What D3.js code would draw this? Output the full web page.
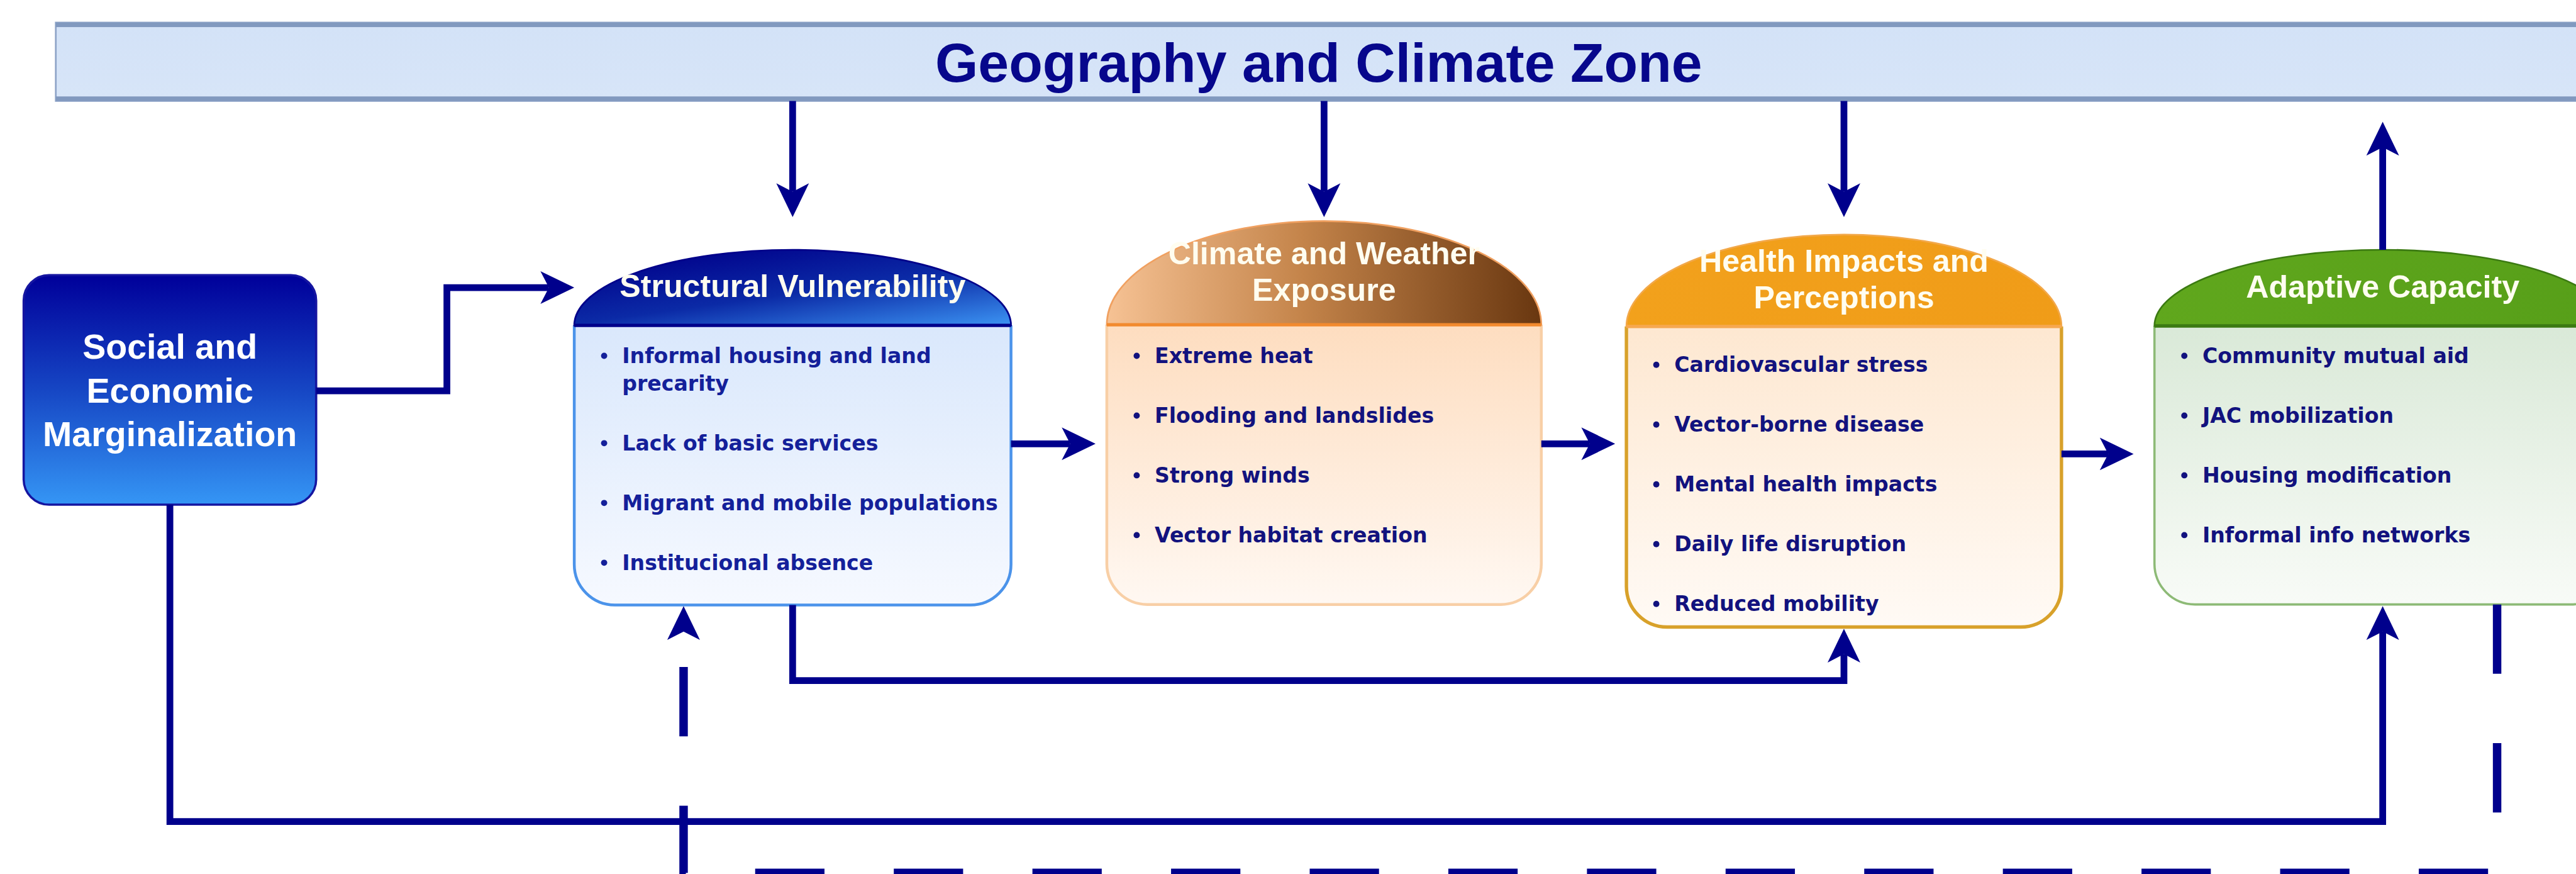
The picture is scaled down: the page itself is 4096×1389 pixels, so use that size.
<!DOCTYPE html>
<html>
<head>
<meta charset="utf-8">
<script src="https://cdn.jsdelivr.net/npm/d3@7"></script>
<style>
  html, body { margin: 0; padding: 0; background: #fff; overflow: hidden; }
  svg { display: block; }
</style>
</head>
<body>
<script>
/* Diagram content */
var topLabel = "Geography and Climate Zone";
var sourceLabel = ["Social and", "Economic", "Marginalization"];
var boxTitles = ["Structural Vulnerability", "Climate and Weather Exposure",
                 "Health Impacts and Perceptions", "Adaptive Capacity"];
var structuralItems = ["Informal housing and land precarity", "Lack of basic services",
                       "Migrant and mobile populations", "Institucional absence"];
var climateItems = ["Extreme heat", "Flooding and landslides", "Strong winds", "Vector habitat creation"];
var healthItems = ["Cardiovascular stress", "Vector-borne disease", "Mental health impacts",
                   "Daily life disruption", "Reduced mobility"];
var adaptiveItems = ["Community mutual aid", "JAC mobilization", "Housing modification",
                     "Informal info networks"];
var boxItems = [structuralItems, climateItems, healthItems, adaptiveItems];

/* Layout, in reference pixels (the viewBox scales it to the window) */
var CONF = {
  W: 4571, H: 1550,
  navy: "#00008c",
  lineW: 12,
  head: { len: 60, half: 29, notch: 15 },
  bar: { x: 99, y: 40, w: 4482, h: 139 },
  source: { x: 42, y: 488, w: 519, h: 407, r: 45 },
  boxes: [
    { x0: 1019, x1: 1794, y0: 443, hb: 577, y1: 1073, first: 644 },
    { x0: 1964, x1: 2735, y0: 392, hb: 576, y1: 1072, first: 644 },
    { x0: 2886, x1: 3658, y0: 416, hb: 579, y1: 1112, first: 660 },
    { x0: 3823, x1: 4633, y0: 443, hb: 578, y1: 1072, first: 644 }
  ],
  bottomR: 72,
  itemGap: 106, wrapGap: 49, textPad: 85, dotPad: 53,
  titleFont: "'Liberation Sans', Arial, sans-serif",
  itemFont: "'DejaVu Sans', Verdana, sans-serif"
};

var boxStyle = [
  { head: [["0%", "#00008a"], ["50%", "#0b2aa6"], ["100%", "#3c94f3"]], dir: [0.2, 0, 1, 1], rim: "#00008a",
    headLine: "#00008a", body: ["#d2e3fb", "#f6f9ff"], border: "#4b93ea", bw: 5, ink: "#14209a" },
  { head: [["0%", "#f6c294"], ["45%", "#c4844a"], ["100%", "#693710"]], dir: [0, 0, 1, 0], rim: "#f0a060",
    headLine: "#f28a2e", body: ["#fdd3ad", "#fff8f2"], border: "#f8cfa6", bw: 5, ink: "#12127e" },
  { head: [["0%", "#f2a11c"], ["100%", "#f09c18"]], dir: [0, 0, 1, 0], rim: "#f2a84a",
    headLine: "#f6a850", body: ["#fde2c6", "#fffaf5"], border: "#d8a12a", bw: 6, ink: "#12127e" },
  { head: [["0%", "#60a71d"], ["100%", "#579f19"]], dir: [0, 0, 1, 0], rim: "#3b7a12",
    headLine: "#3b7a12", body: ["#d1e4cf", "#f8fbf7"], border: "#8dba76", bw: 4, ink: "#12127e" }
];

var svg = d3.select("body").append("svg")
  .attr("width", 4096).attr("height", 1389)
  .attr("viewBox", "0 0 " + CONF.W + " " + CONF.H);
var defs = svg.append("defs");

var measurer = svg.append("text").attr("visibility", "hidden");
var measure = function(str, font, size) {
  measurer.attr("font-family", font).attr("font-size", size).attr("font-weight", "bold").text(str);
  return measurer.node().getComputedTextLength();
};
var wrap = function(str, maxW, font, size) {
  var lines = [], cur = "";
  str.split(" ").forEach(function(w) {
    var t = cur ? cur + " " + w : w;
    if (cur && measure(t, font, size) > maxW) { lines.push(cur); cur = w; }
    else cur = t;
  });
  lines.push(cur);
  return lines;
};

var addGradient = function(id, stops, dir) {
  var g = defs.append("linearGradient").attr("id", id)
    .attr("x1", dir[0]).attr("y1", dir[1]).attr("x2", dir[2]).attr("y2", dir[3]);
  stops.forEach(function(s) { g.append("stop").attr("offset", s[0]).attr("stop-color", s[1]); });
};

/* Top bar */
addGradient("barFill", [["0%", "#d3e2f7"], ["100%", "#d7e5f8"]], [0, 0, 0, 1]);
var bar = CONF.bar;
svg.append("rect").attr("x", bar.x).attr("y", bar.y).attr("width", bar.w).attr("height", bar.h)
  .attr("fill", "url(#barFill)").attr("stroke", "#8ea4c8").attr("stroke-width", 3);
svg.append("rect").attr("x", bar.x).attr("y", bar.y).attr("width", bar.w).attr("height", 8).attr("fill", "#8199bf");
svg.append("rect").attr("x", bar.x).attr("y", bar.y + bar.h - 8).attr("width", bar.w).attr("height", 8).attr("fill", "#8199bf");
svg.append("text").attr("x", 2340).attr("y", bar.y + bar.h / 2 + 0.716 * 98 / 2)
  .attr("text-anchor", "middle").attr("font-family", CONF.titleFont).attr("font-weight", "bold")
  .attr("font-size", 98).attr("fill", "#07078c").text(topLabel);

/* Source box */
addGradient("srcFill", [["0%", "#00009a"], ["50%", "#1646c4"], ["100%", "#3596f5"]], [0, 0, 0, 1]);
var src = CONF.source;
svg.append("rect").attr("x", src.x).attr("y", src.y).attr("width", src.w).attr("height", src.h)
  .attr("rx", src.r).attr("ry", src.r)
  .attr("fill", "url(#srcFill)").attr("stroke", "#1515a0").attr("stroke-width", 4);
var srcSize = 62, srcGap = 78;
var srcMid = src.y + src.h / 2 + 0.716 * srcSize / 2;
svg.append("g").selectAll("text").data(sourceLabel).join("text")
  .attr("x", src.x + src.w / 2)
  .attr("y", function(d, i) { return srcMid + (i - 1) * srcGap; })
  .attr("text-anchor", "middle").attr("font-family", CONF.titleFont).attr("font-weight", "bold")
  .attr("font-size", srcSize).attr("fill", "#ffffff").text(function(d) { return d; });

/* Boxes */
var outline = function(b, r) {
  var a = (b.x1 - b.x0) / 2, hh = b.hb - b.y0;
  return "M" + b.x0 + "," + b.hb + " A" + a + "," + hh + " 0 0 1 " + b.x1 + "," + b.hb +
    " L" + b.x1 + "," + (b.y1 - r) + " A" + r + "," + r + " 0 0 1 " + (b.x1 - r) + "," + b.y1 +
    " L" + (b.x0 + r) + "," + b.y1 + " A" + r + "," + r + " 0 0 1 " + b.x0 + "," + (b.y1 - r) + " Z";
};
var headPath = function(b) {
  var a = (b.x1 - b.x0) / 2, hh = b.hb - b.y0;
  return "M" + b.x0 + "," + b.hb + " A" + a + "," + hh + " 0 0 1 " + b.x1 + "," + b.hb + " Z";
};
var bodyEdge = function(b, r) {
  return "M" + b.x0 + "," + b.hb + " L" + b.x0 + "," + (b.y1 - r) +
    " A" + r + "," + r + " 0 0 0 " + (b.x0 + r) + "," + b.y1 +
    " L" + (b.x1 - r) + "," + b.y1 + " A" + r + "," + r + " 0 0 0 " + b.x1 + "," + (b.y1 - r) +
    " L" + b.x1 + "," + b.hb;
};

var titleSize = 56, titleGap = 65, itemSize = 37;
CONF.boxes.forEach(function(b, i) {
  var st = boxStyle[i];
  addGradient("head" + i, st.head, st.dir);
  addGradient("body" + i, [["0%", st.body[0]], ["100%", st.body[1]]], [0, 0, 0, 1]);
  var g = svg.append("g");
  g.append("path").attr("d", outline(b, CONF.bottomR)).attr("fill", "url(#body" + i + ")");
  g.append("path").attr("d", bodyEdge(b, CONF.bottomR)).attr("fill", "none")
    .attr("stroke", st.border).attr("stroke-width", st.bw);
  g.append("path").attr("d", headPath(b)).attr("fill", "url(#head" + i + ")")
    .attr("stroke", st.rim).attr("stroke-width", 3);
  g.append("line").attr("x1", b.x0).attr("x2", b.x1).attr("y1", b.hb).attr("y2", b.hb)
    .attr("stroke", st.headLine).attr("stroke-width", 6);

  // title
  var lines = wrap(boxTitles[i], (b.x1 - b.x0) - 100, CONF.titleFont, titleSize);
  var mid = (b.y0 + b.hb) / 2 + 0.716 * titleSize / 2 - 3;
  g.selectAll("text.title").data(lines).join("text").attr("class", "title")
    .attr("x", (b.x0 + b.x1) / 2)
    .attr("y", function(d, k) { return mid + (k - (lines.length - 1) / 2) * titleGap; })
    .attr("text-anchor", "middle").attr("font-family", CONF.titleFont).attr("font-weight", "bold")
    .attr("font-size", titleSize).attr("fill", "#fffdf0").text(function(d) { return d; });

  // bullet items
  var y = b.first, maxW = (b.x1 - b.x0) - CONF.textPad - 6;
  var rows = [], dots = [];
  boxItems[i].forEach(function(item) {
    var ls = wrap(item, maxW, CONF.itemFont, itemSize);
    dots.push(y);
    ls.forEach(function(l, k) { rows.push({ t: l, y: y + k * CONF.wrapGap }); });
    y += (ls.length - 1) * CONF.wrapGap + CONF.itemGap;
  });
  g.selectAll("circle.dot").data(dots).join("circle").attr("class", "dot")
    .attr("cx", b.x0 + CONF.dotPad).attr("cy", function(d) { return d - 13; })
    .attr("r", 5.5).attr("fill", st.ink);
  g.selectAll("text.item").data(rows).join("text").attr("class", "item")
    .attr("x", b.x0 + CONF.textPad).attr("y", function(d) { return d.y; })
    .attr("font-family", CONF.itemFont).attr("font-weight", "bold")
    .attr("font-size", itemSize).attr("fill", st.ink).text(function(d) { return d.t; });
});

/* Connections */
var B = CONF.boxes;
var cx = function(b) { return (b.x0 + b.x1) / 2; };
var barBottom = bar.y + bar.h;
var links = [
  { pts: [[cx(B[0]), barBottom], [cx(B[0]), 385]] },
  { pts: [[cx(B[1]), barBottom], [cx(B[1]), 385]] },
  { pts: [[cx(B[2]), barBottom], [cx(B[2]), 385]] },
  { pts: [[cx(B[3]), B[3].y0], [cx(B[3]), 216]] },
  { pts: [[src.x + src.w, 693], [793, 693], [793, 510], [B[0].x0, 510]] },
  { pts: [[B[0].x1, 787], [B[1].x0 - 20, 787]] },
  { pts: [[B[1].x1, 787], [B[2].x0 - 20, 787]] },
  { pts: [[B[2].x1, 805], [B[3].x0 - 37, 805]] },
  { pts: [[cx(B[0]), B[0].y1], [cx(B[0]), 1207], [cx(B[2]), 1207], [cx(B[2]), B[2].y1 + 3]] },
  { pts: [[src.x + src.w / 2, src.y + src.h], [src.x + src.w / 2, 1457], [cx(B[3]), 1457], [cx(B[3]), B[3].y1 + 3]] },
  { pts: [[4431, B[3].y1], [4431, 1548], [1213, 1548], [1213, B[0].y1 + 2]], dash: "123 123", w: 15 }
];

var hd = CONF.head;
var lineGen = d3.line();
links.forEach(function(lk) {
  var p = lk.pts.slice();
  var tip = p[p.length - 1], prev = p[p.length - 2];
  var dx = tip[0] - prev[0], dy = tip[1] - prev[1];
  var len = Math.sqrt(dx * dx + dy * dy), ux = dx / len, uy = dy / len;
  var back = hd.len - hd.notch;
  var pts = p.slice(0, p.length - 1).concat([[tip[0] - ux * back, tip[1] - uy * back]]);
  svg.append("path").attr("d", lineGen(pts)).attr("fill", "none")
    .attr("stroke", CONF.navy).attr("stroke-width", lk.w || CONF.lineW)
    .attr("stroke-linejoin", "miter").attr("stroke-dasharray", lk.dash || null);
  var ang = Math.atan2(dy, dx) * 180 / Math.PI;
  svg.append("path")
    .attr("d", "M0,0 L" + (-hd.len) + "," + (-hd.half) + " L" + (-back) + ",0 L" + (-hd.len) + "," + hd.half + " Z")
    .attr("transform", "translate(" + tip[0] + "," + tip[1] + ") rotate(" + ang + ")")
    .attr("fill", CONF.navy);
});

measurer.remove();
</script>
</body>
</html>
